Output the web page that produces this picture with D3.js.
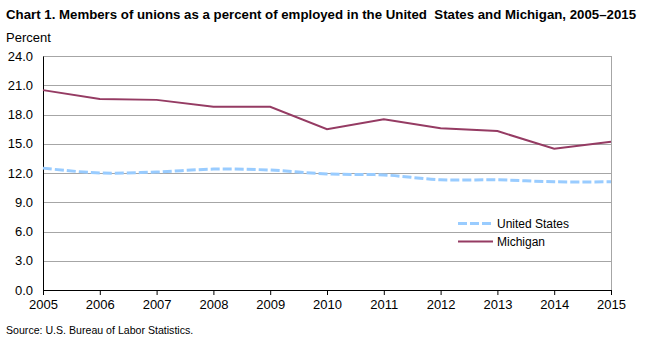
<!DOCTYPE html>
<html>
<head>
<meta charset="utf-8">
<script src="https://cdn.jsdelivr.net/npm/d3@7"></script>
<style>
  body { margin: 0; background: #fff; }
  svg { display: block; font-family: "Liberation Sans", Arial, sans-serif; }
  .title { font-size: 13px; font-weight: bold; white-space: pre; }
  .tick text { font-size: 13px; fill: #000; }
</style>
</head>
<body>
<div class="chart"></div>
<script>
// Union membership rates, percent of employed
var years = [2005, 2006, 2007, 2008, 2009, 2010, 2011, 2012, 2013, 2014, 2015];
var unitedStates = [12.5, 12.0, 12.1, 12.4, 12.3, 11.9, 11.8, 11.3, 11.3, 11.1, 11.1];
var michigan = [20.5, 19.6, 19.5, 18.8, 18.8, 16.5, 17.5, 16.6, 16.3, 14.5, 15.2];
var yTicks = [0, 3, 6, 9, 12, 15, 18, 21, 24];

var svgWidth = 652;
var svgHeight = 340;
var margin = { top: 56, right: 41, bottom: 50, left: 43 };
var width = svgWidth - margin.left - margin.right;
var height = svgHeight - margin.top - margin.bottom;

var svg = d3.select(".chart")
  .append("svg")
  .attr("width", svgWidth)
  .attr("height", svgHeight);

svg.append("text")
  .attr("class", "title")
  .attr("x", 6)
  .attr("y", 19)
  .attr("textLength", 630)
  .attr("lengthAdjust", "spacingAndGlyphs")
  .text("Chart 1. Members of unions as a percent of employed in the United  States and Michigan, 2005\u20132015");

svg.append("text")
  .attr("x", 6)
  .attr("y", 42)
  .style("font-size", "13px")
  .text("Percent");

svg.append("text")
  .attr("x", 6)
  .attr("y", 334)
  .style("font-size", "10.6px")
  .text("Source: U.S. Bureau of Labor Statistics.");

var chart = svg.append("g")
  .attr("transform", "translate(" + margin.left + "," + margin.top + ")");

var x = d3.scaleLinear().domain([2005, 2015]).range([0, width]);
var y = d3.scaleLinear().domain([0, 24]).range([height, 0]);

// horizontal gridlines
chart.selectAll(".grid")
  .data(yTicks.filter(function(d) { return d > 0; }))
  .enter()
  .append("line")
  .attr("class", "grid")
  .attr("x1", 0)
  .attr("x2", width)
  .attr("y1", function(d) { return Math.round(y(d)) + 0.5; })
  .attr("y2", function(d) { return Math.round(y(d)) + 0.5; })
  .attr("stroke", "#a6a6a6")
  .attr("stroke-width", 1);

// right border
chart.append("line")
  .attr("x1", width + 0.5)
  .attr("x2", width + 0.5)
  .attr("y1", 0)
  .attr("y2", height)
  .attr("stroke", "#a6a6a6");

var leftAxis = d3.axisLeft(y)
  .tickValues(yTicks)
  .tickFormat(d3.format(".1f"))
  .tickSize(0)
  .tickPadding(10);

chart.append("g")
  .attr("class", "y-axis")
  .call(leftAxis)
  .call(function(g) { g.select(".domain").attr("stroke", "#000"); });

var bottomAxis = d3.axisBottom(x)
  .tickValues(years)
  .tickFormat(d3.format("d"))
  .tickSize(5)
  .tickSizeOuter(0)
  .tickPadding(5);

chart.append("g")
  .attr("class", "x-axis")
  .attr("transform", "translate(0," + height + ")")
  .call(bottomAxis)
  .call(function(g) {
    g.select(".domain").attr("stroke", "#000");
    g.selectAll(".tick line").attr("stroke", "#000");
  });

var usLine = d3.line()
  .x(function(d, i) { return x(years[i]); })
  .y(function(d) { return y(d); })
  .curve(d3.curveCatmullRom.alpha(0.5));

var miLine = d3.line()
  .x(function(d, i) { return x(years[i]); })
  .y(function(d) { return y(d); });

chart.append("path")
  .datum(unitedStates)
  .attr("d", usLine)
  .attr("fill", "none")
  .attr("stroke", "#99ccff")
  .attr("stroke-width", 3)
  .attr("stroke-dasharray", "9,3");

chart.append("path")
  .datum(michigan)
  .attr("d", miLine)
  .attr("fill", "none")
  .attr("stroke", "#953b63")
  .attr("stroke-width", 2);

// legend
var legend = svg.append("g");
var legendItems = [
  { name: "United States", color: "#99ccff", width: 3, dash: "9,3", y: 223.5 },
  { name: "Michigan", color: "#953b63", width: 2, dash: null, y: 241.5 }
];
legendItems.forEach(function(item) {
  legend.append("line")
    .attr("x1", 458)
    .attr("x2", 493)
    .attr("y1", item.y)
    .attr("y2", item.y)
    .attr("stroke", item.color)
    .attr("stroke-width", item.width)
    .attr("stroke-dasharray", item.dash);
  legend.append("text")
    .attr("x", 497)
    .attr("y", item.y + 4.5)
    .style("font-size", "12px")
    .text(item.name);
});
</script>
</body>
</html>
